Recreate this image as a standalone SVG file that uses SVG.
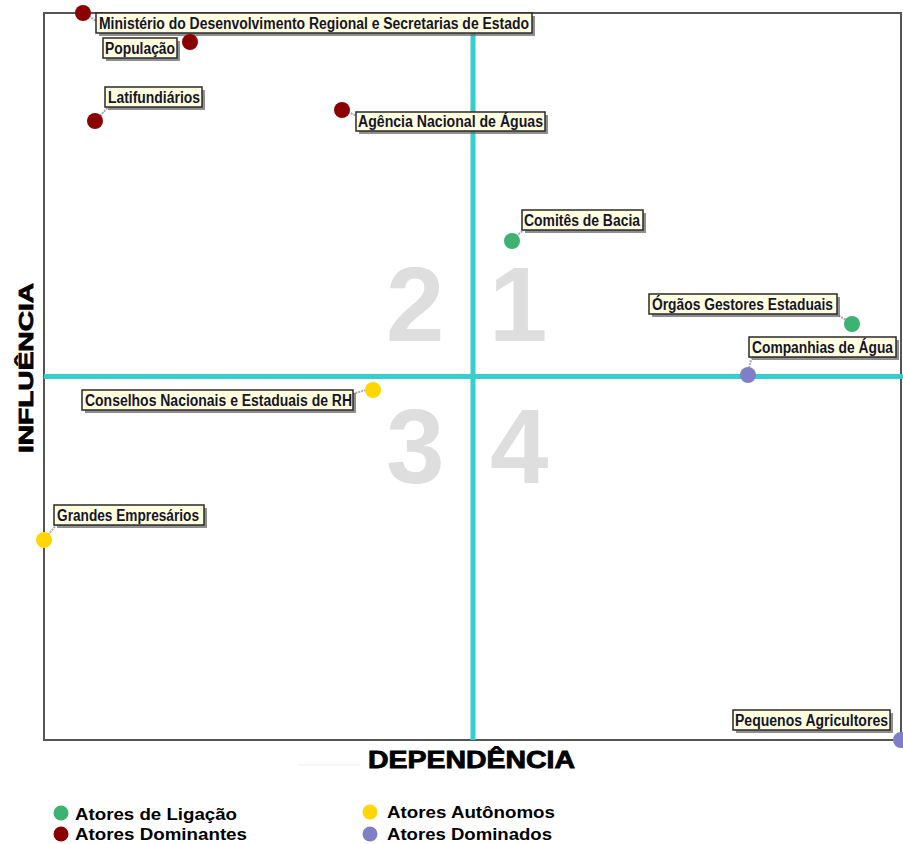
<svg xmlns="http://www.w3.org/2000/svg" width="903" height="844" viewBox="0 0 903 844">
<style>
.frame{fill:none;stroke:#555;stroke-width:2}
.axis{stroke:#36CECE;stroke-width:5}
.num{font-family:"Liberation Sans",Arial,sans-serif;font-weight:bold;font-size:105px;fill:#DEDEDE}
.box{fill:#FFFFE0;stroke:#2a2a2a;stroke-width:1.5}
.shadow{fill:#6a6a6a;opacity:0.75}
.lbl{font-family:"Liberation Sans Narrow","Liberation Sans",Arial,sans-serif;font-weight:bold;font-size:16px;fill:#15152a}
.lead{stroke:#aaa;stroke-width:2;stroke-dasharray:2 1;fill:none}
.red{fill:#8B0000}.green{fill:#3CB371}.yellow{fill:#FFD700}.purple{fill:#7F7FC4}
.title{font-family:"Liberation Sans",Arial,sans-serif;font-weight:bold;fill:#000;stroke:#000;stroke-width:0.8}
.leg{font-family:"Liberation Sans",Arial,sans-serif;font-weight:bold;font-size:17px;fill:#000}
</style>
<rect width="903" height="844" fill="#fff"/>
<g id="chart">
<rect class="frame" x="44" y="13" width="857" height="727"/>
<line class="axis" x1="473" y1="13" x2="473" y2="740"/>
<line class="axis" x1="44" y1="376.5" x2="903" y2="376.5"/>
<text class="num" x="386" y="341">2</text>
<text class="num" x="489" y="341">1</text>
<text class="num" x="386" y="483">3</text>
<text class="num" x="490" y="483">4</text>
<line x1="298" y1="765" x2="360" y2="765" stroke="#eee" stroke-width="1"/>
<text class="title" font-size="23" x="368" y="768" textLength="207" lengthAdjust="spacingAndGlyphs">DEPENDÊNCIA</text>
<text class="title" font-size="21" transform="translate(33,368) rotate(-90)" text-anchor="middle" textLength="170" lengthAdjust="spacingAndGlyphs">INFLUÊNCIA</text>
</g>
<g id="connectors">
<line class="lead" x1="89" y1="16" x2="96" y2="21"/>
<line class="lead" x1="100" y1="116" x2="108" y2="107"/>
<line class="lead" x1="348" y1="112" x2="357" y2="116"/>
<line class="lead" x1="516" y1="236" x2="524" y2="230"/>
<line class="lead" x1="836" y1="314" x2="846" y2="320"/>
<line class="lead" x1="749" y1="368" x2="752" y2="356"/>
<line class="lead" x1="366" y1="390" x2="352" y2="394"/>
<line class="lead" x1="48" y1="535" x2="57" y2="524"/>
</g>
<g id="n-ministerio">
<rect class="shadow" x="99" y="16" width="436" height="20"/>
<rect class="box" x="96" y="13" width="436" height="20"/>
<text class="lbl" x="99" y="29" textLength="430" lengthAdjust="spacingAndGlyphs">Ministério do Desenvolvimento Regional e Secretarias de Estado</text>
<circle class="red" cx="83" cy="13" r="8"/>
</g>
<g id="n-populacao">
<rect class="shadow" x="106" y="41" width="74" height="20"/>
<rect class="box" x="103" y="38" width="74" height="20"/>
<text class="lbl" x="105" y="54" textLength="70" lengthAdjust="spacingAndGlyphs">População</text>
<circle class="red" cx="190" cy="42" r="8"/>
</g>
<g id="n-latifundiarios">
<rect class="shadow" x="108" y="90" width="97" height="20"/>
<rect class="box" x="105" y="87" width="97" height="20"/>
<text class="lbl" x="108" y="103" textLength="92" lengthAdjust="spacingAndGlyphs">Latifundiários</text>
<circle class="red" cx="95" cy="121" r="8"/>
</g>
<g id="n-agencia">
<rect class="shadow" x="359" y="115" width="189" height="19"/>
<rect class="box" x="356" y="112" width="189" height="19"/>
<text class="lbl" x="358" y="127" textLength="185" lengthAdjust="spacingAndGlyphs">Agência Nacional de Águas</text>
<circle class="red" cx="342" cy="110" r="8"/>
</g>
<g id="n-comites">
<rect class="shadow" x="525" y="213" width="121" height="20"/>
<rect class="box" x="522" y="210" width="121" height="20"/>
<text class="lbl" x="524" y="226" textLength="116" lengthAdjust="spacingAndGlyphs">Comitês de Bacia</text>
<circle class="green" cx="512" cy="241" r="8"/>
</g>
<g id="n-orgaos">
<rect class="shadow" x="652" y="297" width="188" height="20"/>
<rect class="box" x="649" y="294" width="188" height="20"/>
<text class="lbl" x="652" y="310" textLength="181" lengthAdjust="spacingAndGlyphs">Órgãos Gestores Estaduais</text>
<circle class="green" cx="852" cy="324" r="8"/>
</g>
<g id="n-companhias">
<rect class="shadow" x="752" y="340" width="147" height="20"/>
<rect class="box" x="749" y="337" width="147" height="20"/>
<text class="lbl" x="752" y="353" textLength="141" lengthAdjust="spacingAndGlyphs">Companhias de Água</text>
<circle class="purple" cx="748" cy="375" r="8"/>
</g>
<g id="n-conselhos">
<rect class="shadow" x="85" y="393" width="271" height="20"/>
<rect class="box" x="82" y="390" width="271" height="20"/>
<text class="lbl" x="85" y="406" textLength="267" lengthAdjust="spacingAndGlyphs">Conselhos Nacionais e Estaduais de RH</text>
<circle class="yellow" cx="373" cy="390" r="8"/>
</g>
<g id="n-grandes">
<rect class="shadow" x="57" y="508" width="150" height="20"/>
<rect class="box" x="54" y="505" width="150" height="20"/>
<text class="lbl" x="57" y="521" textLength="142" lengthAdjust="spacingAndGlyphs">Grandes Empresários</text>
<circle class="yellow" cx="44" cy="540" r="8"/>
</g>
<g id="n-pequenos">
<rect class="shadow" x="736" y="713" width="157" height="20"/>
<rect class="box" x="733" y="710" width="157" height="20"/>
<text class="lbl" x="735" y="726" textLength="153" lengthAdjust="spacingAndGlyphs">Pequenos Agricultores</text>
<circle class="purple" cx="901" cy="740" r="8"/>
</g>
<g id="legend">
<circle class="green" cx="61" cy="813" r="7.5"/>
<text class="leg" x="75" y="820" textLength="162" lengthAdjust="spacingAndGlyphs">Atores de Ligação</text>
<circle class="red" cx="61" cy="834" r="7.5"/>
<text class="leg" x="75" y="840" textLength="172" lengthAdjust="spacingAndGlyphs">Atores Dominantes</text>
<circle class="yellow" cx="370" cy="812" r="7.5"/>
<text class="leg" x="387" y="818" textLength="168" lengthAdjust="spacingAndGlyphs">Atores Autônomos</text>
<circle class="purple" cx="370" cy="834" r="7.5"/>
<text class="leg" x="387" y="840" textLength="165" lengthAdjust="spacingAndGlyphs">Atores Dominados</text>
</g>
</svg>
